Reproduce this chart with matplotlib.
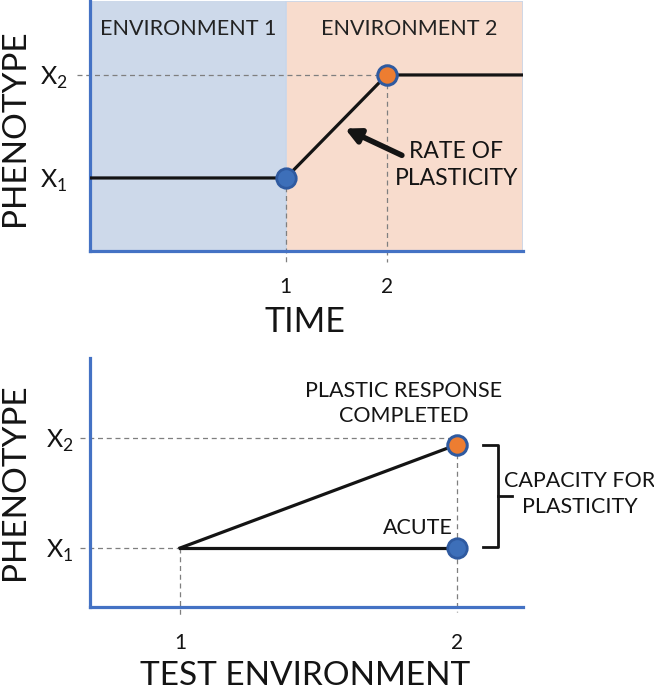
import matplotlib
matplotlib.use("Agg")
import matplotlib.pyplot as plt

plt.rcParams['font.family'] = ['Lato', 'DejaVu Sans']

# top panel: phenotype over time
time_pts = [-1.0, 1, 2, 3.4]
phen_time = [1, 1, 2, 2]
switch_time = 1
x1_level = 1
x2_level = 2

# bottom panel: phenotype by test environment
test_env = [1, 2]
acute = [1, 1]
completed = [1, 1.94]

blue = "#4472c4"
dot_blue = "#3d6fb9"
orange = "#ed7d31"
grey = "#7f7f7f"
env1_col = "#cdd9ea"
env2_col = "#f8dccd"
ink = "#141414"

fig = plt.figure(figsize=(6.54, 6.91), dpi=100)

# ---------- top ----------
ax1 = fig.add_axes([90/654, 440/691, 433/654, 250/691])
ax1.set_xlim(-0.94, 3.35)
ax1.set_ylim(0.291, 2.718)
ax1.axvspan(-0.94, switch_time, color=env1_col, lw=0, zorder=0)
ax1.axvspan(switch_time, 3.35, facecolor=env2_col, edgecolor="#c9d7ea", lw=1.2, zorder=0)

ax1.plot(time_pts, phen_time, color=ink, lw=2.3, zorder=3)
# guide lines
ax1.plot([-1.07, time_pts[2]], [x2_level, x2_level], color=grey, lw=0.9, ls=(0, (4, 3)), clip_on=False, zorder=2)
ax1.plot([time_pts[1]]*2, [x1_level, 0.17], color=grey, lw=0.9, ls=(0, (4, 3)), clip_on=False, zorder=2)
ax1.plot([time_pts[2]]*2, [x2_level, 0.18], color=grey, lw=0.9, ls=(0, (4, 3)), clip_on=False, zorder=2)

ax1.plot(time_pts[1], phen_time[1], 'o', ms=14, mfc=dot_blue, mec="#2f5aa0", mew=2, zorder=5)
ax1.plot(time_pts[2], phen_time[2], 'o', ms=14, mfc=orange, mec="#2f5aa0", mew=2.2, zorder=5)

for s in ["top", "right"]:
    ax1.spines[s].set_visible(False)
for s in ["left", "bottom"]:
    ax1.spines[s].set_color(blue)
    ax1.spines[s].set_linewidth(2.3)
ax1.set_xticks([1, 2])
ax1.set_xticklabels(["1", "2"], fontsize=15, color=ink)
ax1.tick_params(axis="x", length=0, pad=19)
ax1.set_yticks([x1_level, x2_level])
ax1.set_yticklabels(["X$_{\\mathregular{1}}$", "X$_{\\mathregular{2}}$"], fontsize=18, color=ink)
ax1.tick_params(axis="y", length=0, pad=16)

ax1.text(0.03, 2.447, "ENVIRONMENT 1", ha="center", va="center", fontsize=15.5, color="#222222")
ax1.text(2.218, 2.447, "ENVIRONMENT 2", ha="center", va="center", fontsize=15.5, color="#222222")
ax1.text(2.69, 1.126, "RATE OF\nPLASTICITY", ha="center", va="center", fontsize=16.5,
         linespacing=1.3, color=ink)
ax1.annotate("", xy=(1.585, 1.48), xytext=(2.15, 1.22),
             arrowprops=dict(arrowstyle="-|>", lw=4, color=ink, mutation_scale=22,
                             shrinkA=0, shrinkB=0))

fig.text(305/654, 1 - 322/691, "TIME", ha="center", va="center", fontsize=24.5, color=ink)
fig.text(15/654, 1 - 128/691, "PHENOTYPE", ha="center", va="center", rotation=90,
         fontsize=24, color=ink)

# ---------- bottom ----------
ax2 = fig.add_axes([90/654, 84/691, 433/654, 249/691])
ax2.set_xlim(0.675, 2.238)
ax2.set_ylim(0.464, 2.727)

ax2.plot(test_env, completed, color=ink, lw=2.3, zorder=3)
ax2.plot(test_env, acute, color=ink, lw=2.3, zorder=3)

ax2.plot([0.64, test_env[0]], [x1_level, x1_level], color=grey, lw=0.9, ls=(0, (4, 3)), clip_on=False, zorder=2)
ax2.plot([0.64, test_env[1]], [x2_level, x2_level], color=grey, lw=0.9, ls=(0, (4, 3)), clip_on=False, zorder=2)
ax2.plot([test_env[0]]*2, [acute[0], 0.38], color=grey, lw=0.9, ls=(0, (4, 3)), clip_on=False, zorder=2)
ax2.plot([test_env[1]]*2, [completed[1], 0.42], color=grey, lw=0.9, ls=(0, (4, 3)), clip_on=False, zorder=2)

ax2.plot(test_env[1], acute[1], 'o', ms=14, mfc=dot_blue, mec="#2f5aa0", mew=2, zorder=5)
ax2.plot(test_env[1], completed[1], 'o', ms=14, mfc=orange, mec="#2f5aa0", mew=2.2, zorder=5)

for s in ["top", "right"]:
    ax2.spines[s].set_visible(False)
for s in ["left", "bottom"]:
    ax2.spines[s].set_color(blue)
    ax2.spines[s].set_linewidth(2.3)
ax2.set_xticks(test_env)
ax2.set_xticklabels(["1", "2"], fontsize=15, color=ink)
ax2.tick_params(axis="x", length=0, pad=19)
ax2.set_yticks([x1_level, x2_level])
ax2.set_yticklabels(["X$_{\\mathregular{1}}$", "X$_{\\mathregular{2}}$"], fontsize=18, color=ink)
ax2.tick_params(axis="y", length=0, pad=12)

# bracket between acute and completed
bx0, bx1, bx2 = 2.094, 2.148, 2.199
ymid = (acute[1] + completed[1]) / 2
ax2.plot([bx0, bx1, bx1, bx0], [completed[1], completed[1], acute[1] + 0.01, acute[1] + 0.01],
         color=ink, lw=2, clip_on=False, solid_joinstyle="round")
ax2.plot([bx1, bx2], [ymid, ymid], color=ink, lw=2, clip_on=False)

ax2.text(1.808, 2.31, "PLASTIC RESPONSE\nCOMPLETED", ha="center", va="center", fontsize=15.5,
         linespacing=1.3, color=ink)
ax2.text(1.858, 1.182, "ACUTE", ha="center", va="center", fontsize=15.5, color=ink)
ax2.text(2.442, 1.49, "CAPACITY FOR\nPLASTICITY", ha="center", va="center", fontsize=15.5,
         linespacing=1.35, color=ink, clip_on=False)

fig.text(305/654, 1 - 676/691, "TEST ENVIRONMENT", ha="center", va="center", fontsize=24, color=ink)
fig.text(15/654, 1 - 482/691, "PHENOTYPE", ha="center", va="center", rotation=90,
         fontsize=24, color=ink)

fig.savefig("out.png", dpi=100)
